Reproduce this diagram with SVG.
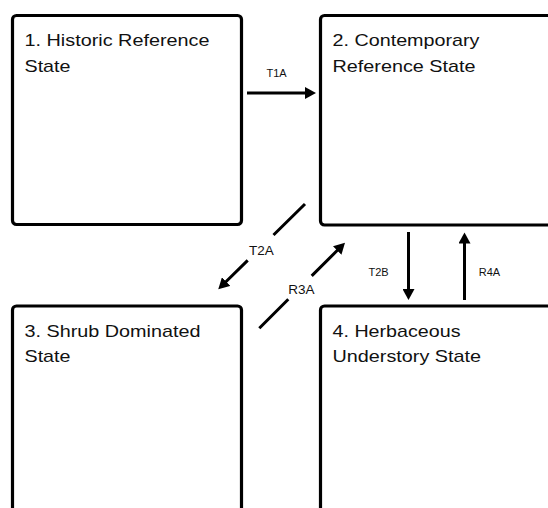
<svg xmlns="http://www.w3.org/2000/svg" width="548" height="508" viewBox="0 0 548 508">
<style>
.box{fill:#fff;stroke:#000;stroke-width:3.2}
.t{font-family:"Liberation Sans",Arial,sans-serif;font-size:17px;fill:#111}
.lbl{font-family:"Liberation Sans",Arial,sans-serif;font-size:11px;fill:#111;text-anchor:middle}
.lbl2{font-family:"Liberation Sans",Arial,sans-serif;font-size:13.5px;fill:#111;text-anchor:middle}
.c{fill:none;stroke:#000;stroke-width:3}
</style>
<defs>
<marker id="ah" markerUnits="userSpaceOnUse" markerWidth="12" markerHeight="12" refX="1" refY="6" orient="auto">
<path d="M0,0 L11,6 L0,12 z" fill="#000"/>
</marker>
</defs>
<rect width="548" height="508" fill="#fff"/>
<g id="node1">
<rect class="box" x="12.5" y="15.5" width="229" height="209" rx="4"/>
<text class="t" x="24.5" y="46" textLength="185" lengthAdjust="spacingAndGlyphs">1. Historic Reference</text>
<text class="t" x="24.5" y="72" textLength="46" lengthAdjust="spacingAndGlyphs">State</text>
</g>
<g id="node2">
<rect class="box" x="320.5" y="15.5" width="260" height="209.5" rx="4"/>
<text class="t" x="332.5" y="46" textLength="147" lengthAdjust="spacingAndGlyphs">2. Contemporary</text>
<text class="t" x="332.5" y="72" textLength="143" lengthAdjust="spacingAndGlyphs">Reference State</text>
</g>
<g id="node3">
<rect class="box" x="12.5" y="306" width="229" height="220" rx="4"/>
<text class="t" x="24.5" y="336.5" textLength="176" lengthAdjust="spacingAndGlyphs">3. Shrub Dominated</text>
<text class="t" x="24.5" y="362" textLength="46" lengthAdjust="spacingAndGlyphs">State</text>
</g>
<g id="node4">
<rect class="box" x="320.5" y="306" width="260" height="220" rx="4"/>
<text class="t" x="332.5" y="336.5" textLength="128" lengthAdjust="spacingAndGlyphs">4. Herbaceous</text>
<text class="t" x="332.5" y="362" textLength="148.6" lengthAdjust="spacingAndGlyphs">Understory State</text>
</g>
<g id="connectors">
<line class="c" x1="247" y1="93" x2="306" y2="93" marker-end="url(#ah)"/>
<text class="lbl" x="276.5" y="77">T1A</text>
<line class="c" x1="408.5" y1="232" x2="408.5" y2="290" marker-end="url(#ah)"/>
<text class="lbl" x="378.5" y="276">T2B</text>
<line class="c" x1="464.5" y1="300" x2="464.5" y2="242.5" marker-end="url(#ah)"/>
<text class="lbl" x="489.5" y="276">R4A</text>
<path class="c" d="M305,204 L273.5,235 M247.7,260.4 L225.4,282.3" marker-end="url(#ah)"/>
<text class="lbl2" x="261.5" y="255">T2A</text>
<path class="c" d="M259.3,328.3 L288.3,299.3 M311.7,275.9 L337.9,249.8" marker-end="url(#ah)"/>
<text class="lbl2" x="301.5" y="294">R3A</text>
</g>
</svg>
